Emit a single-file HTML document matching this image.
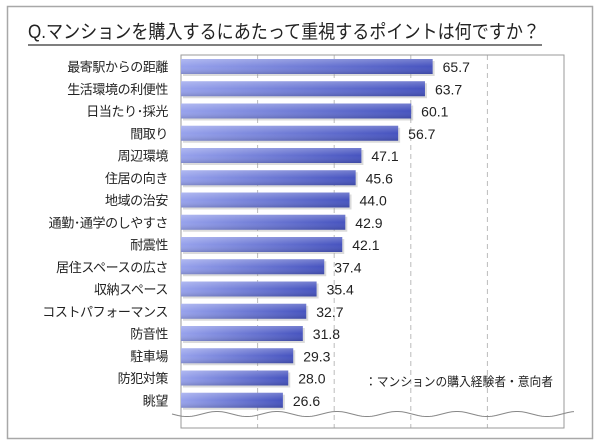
<!DOCTYPE html>
<html><head><meta charset="utf-8"><style>
body{margin:0;background:#fff;}
svg{display:block;font-family:"Liberation Sans","Noto Sans CJK JP",sans-serif;}
</style></head><body>
<svg id="c" width="600" height="447">
<defs>
<linearGradient id="g" x1="0" x2="1" y1="0" y2="0"><stop offset="0" stop-color="#97a2ec"/><stop offset="1" stop-color="#4653bf"/></linearGradient>
<linearGradient id="gv" x1="0" x2="0" y1="0" y2="1"><stop offset="0" stop-color="#fff" stop-opacity="0.25"/><stop offset="0.5" stop-color="#fff" stop-opacity="0"/><stop offset="1" stop-color="#000" stop-opacity="0.15"/></linearGradient>
</defs>
<rect x="7.5" y="6.5" width="585" height="432" fill="#fff" stroke="#a8a8a8" stroke-width="1.5"/>
<text x="28" y="38" font-size="19" fill="#222" textLength="512" lengthAdjust="spacingAndGlyphs">Q.マンションを購入するにあたって重視するポイントは何ですか？</text>
<line x1="28" y1="45" x2="542" y2="45" stroke="#333" stroke-width="1.3"/>
<g id="grid"></g>
<rect x="181" y="55" width="383" height="373" fill="none" stroke="#999" stroke-width="1"/>
<g id="bars"></g>
<path id="wave" fill="none" stroke="#888" stroke-width="1"/>
<text x="365" y="386" font-size="12.5" fill="#222" textLength="188" lengthAdjust="spacingAndGlyphs">：マンションの購入経験者・意向者</text>
</svg>
<script>
const categories=["最寄駅からの距離","生活環境の利便性","日当たり・採光","間取り","周辺環境","住居の向き","地域の治安","通勤・通学のしやすさ","耐震性","居住スペースの広さ","収納スペース","コストパフォーマンス","防音性","駐車場","防犯対策","眺望"];
const values=[65.7,63.7,60.1,56.7,47.1,45.6,44.0,42.9,42.1,37.4,35.4,32.7,31.8,29.3,28.0,26.6];
const labels=["65.7","63.7","60.1","56.7","47.1","45.6","44.0","42.9","42.1","37.4","35.4","32.7","31.8","29.3","28.0","26.6"];
const gridTicks=[20,40,60,80];
const NS="http://www.w3.org/2000/svg";
const x0=181,xw=383,xmax=100,y0=59,pitch=22.25,bh=15;
const xs=v=>x0+v/xmax*xw;
const ys=i=>y0+i*pitch;
function mk(t,a){const e=document.createElementNS(NS,t);for(const k in a)e.setAttribute(k,a[k]);return e;}
const grid=document.getElementById('grid');
gridTicks.forEach(t=>{
  const l=mk('line',{x1:xs(t),x2:xs(t),y1:55,y2:428,stroke:'#bbb','stroke-dasharray':'5,4'});
  
  
  grid.appendChild(l);
});
const bars=document.getElementById('bars');
categories.forEach((c,i)=>{
  const y=ys(i),w=xs(values[i])-x0;
  const sh=mk('rect',{x:x0+2,y:y+2,width:w,height:bh,fill:'#999',opacity:0.35});
  
  
  bars.appendChild(sh);
  const r=mk('rect',{x:x0,y:y,width:w,height:bh,fill:'url(#g)'});
  
  
  bars.appendChild(r);
  const r2=mk('rect',{x:x0,y:y,width:w,height:bh,fill:'url(#gv)'});
  
  
  bars.appendChild(r2);
  const lt=mk('text',{x:168,y:y+12.5,'font-size':13,'letter-spacing':'-0.4','text-anchor':'end',fill:'#222'});
  lt.textContent=c.replace(/・/g,'･');
  
  
  bars.appendChild(lt);
  const vt=mk('text',{x:xs(values[i])+10,y:y+13,'font-size':14,fill:'#222'});
  vt.textContent=labels[i];
  
  
  bars.appendChild(vt);
});
let d='M172 414';
for(let x=172;x<=575;x+=2){d+=' L'+x+' '+(414+2.5*Math.sin((x-172)/60*2*Math.PI)).toFixed(1);}
document.getElementById('wave').setAttribute('d',d);
</script>
</body></html>
